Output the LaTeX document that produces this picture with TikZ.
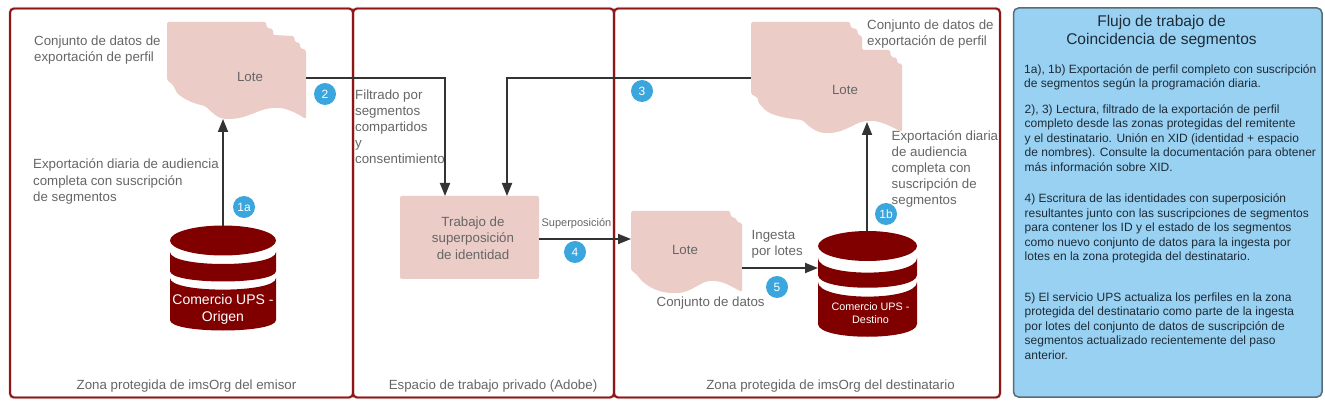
\documentclass[tikz,border=0pt]{standalone}
\usepackage{fontspec}
\setmainfont{Liberation Sans}
\usetikzlibrary{arrows.meta}
\definecolor{zoneRed}{HTML}{8E1616}
\definecolor{zoneHalo}{HTML}{E3C4C4}
\definecolor{pinkFill}{HTML}{ECCCC7}
\definecolor{dbRed}{HTML}{800000}
\definecolor{txtGray}{HTML}{666666}
\definecolor{lineDark}{HTML}{333333}
\definecolor{badgeBlue}{HTML}{3AA6DD}
\definecolor{panelBlue}{HTML}{99D1F3}
\definecolor{panelEdge}{HTML}{5A6B78}
\definecolor{panelText}{HTML}{1E2B36}
\tikzset{
  x=1pt,y=-1pt,
  zonebox/.style={draw=zoneRed,line width=1.9pt,rounded corners=4pt},
  zonehalo/.style={draw=zoneHalo,line width=3pt,rounded corners=4pt},
  docshape/.style={fill=pinkFill,draw=none},
  lbl/.style={text=txtGray,inner sep=0pt,align=left,anchor=west,font=\fontsize{13.3}{16}\selectfont},
  clbl/.style={text=txtGray,inner sep=0pt,align=center,font=\fontsize{13.3}{16.5}\selectfont},
  conn/.style={draw=lineDark,line width=1.8pt,-{Triangle[length=13pt,width=10pt]}},
  badge/.style={circle,fill=badgeBlue,text=white,minimum size=22pt,inner sep=0pt,font=\fontsize{12}{14}\selectfont},
  dbtxt/.style={text=white,inner sep=0pt,align=center},
  sidetxt/.style={text=panelText,inner sep=0pt,align=left,anchor=west,font=\fontsize{12}{14.45}\selectfont},
}
\begin{document}
\begin{tikzpicture}
\useasboundingbox (0,0) rectangle (1325,403);
\fill[white] (0,0) rectangle (1325,403);
% zones
\foreach \a/\b in {10/353,353/614,614/1000}{
  \draw[zonehalo] (\a,8.5) rectangle (\b,397.5);
}
\foreach \a/\b in {10/353,353/614,614/1000}{
  \draw[zonebox] (\a,8.5) rectangle (\b,397.5);
}
% blue panel
\draw[fill=panelBlue,draw=panelEdge,line width=1.5pt,rounded corners=5pt] (1013.5,8) rectangle (1322,397);
% doc A
\fill[docshape,rounded corners=1.5pt] (167,22) -- (266,22) -- (267,28) -- (273,29) -- (273,35) -- (294,36) -- (295,42) -- (300,43) -- (300,48) -- (306,50) -- (306,119)
  .. controls (296,113) and (286,107) .. (273,108) .. controls (258,109) and (248,119) .. (227,119)
  .. controls (218,119) and (212,112) .. (205,106) .. controls (196,104) and (186,101) .. (177,93) -- (173,85) -- (167,80) -- cycle;
% doc B
\fill[docshape,rounded corners=1.5pt] (751,22) -- (850,22) -- (851,28) -- (857,29) -- (858,35) -- (862,36) -- (862,50) -- (890,50) -- (891,57) -- (897,58) -- (897,63) -- (902,64) -- (902,132)
  .. controls (892,127) and (880,120) .. (867,121) .. controls (855,122) and (845,133) .. (827,133)
  .. controls (815,133) and (808,125) .. (802,120) .. controls (792,119) and (775,117) .. (765,110) -- (758,102) -- (758,98) -- (751,94) -- cycle;
% doc C
\fill[docshape,rounded corners=1.5pt] (631,211) -- (730,211) -- (731,217) -- (736,218) -- (737,222) -- (742,223) -- (742,292)
  .. controls (732,287) and (724,281) .. (712,281) .. controls (700,281) and (692,293) .. (675,293)
  .. controls (660,293) and (650,288) .. (642,281) -- (636,274) -- (631,270) -- cycle;
% db source
\fill[dbRed] (223,240.5) ellipse [x radius=53,y radius=15];
\fill[dbRed] (170,252) .. controls (170,268) and (276,268) .. (276,252) -- (276,271) .. controls (276,285) and (170,285) .. (170,271) -- cycle;
\fill[dbRed] (170,278) .. controls (170,293.5) and (276,293.5) .. (276,278) -- (276,320) .. controls (276,334) and (170,334) .. (170,320) -- cycle;
% db dest
\fill[dbRed] (867.5,246) ellipse [x radius=49.5,y radius=15];
\fill[dbRed] (818,258) .. controls (818,277.5) and (917,277.5) .. (917,258) -- (917,275) .. controls (917,292) and (818,292) .. (818,275) -- cycle;
\fill[dbRed] (818,282) .. controls (818,301.5) and (917,301.5) .. (917,282) -- (917,324) .. controls (917,341) and (818,341) .. (818,324) -- cycle;
% anchors of the shapes
\coordinate (srcTop) at (223,226);
\coordinate (dstTop) at (867,231);
\coordinate (dstLeft) at (818,268);
\coordinate (docAin) at (223,119);
\coordinate (docAout) at (306,78);
\coordinate (docBin) at (867,122);
\coordinate (docBout) at (751,78);
\coordinate (docCin) at (631,239);
\coordinate (docCout) at (742,268);
\node[fill=pinkFill,rounded corners=2pt,inner sep=0pt,minimum width=139pt,minimum height=83pt] (job) at (469.5,237.5) {};
\coordinate (jobInA) at (445,196);
\coordinate (jobInB) at (507,196);
\coordinate (jobOut) at (539,239);
% connectors
\draw[conn] (srcTop) -- (docAin);
\draw[conn] (docAout) -| (jobInA);
\draw[conn] (docBout) -| (jobInB);
\draw[conn] (jobOut) -- (docCin);
\draw[conn] (docCout) -- (dstLeft);
\draw[conn] (dstTop) -- (docBin);
% job text
\node[clbl] (jobtxt) at (473,238) {Trabajo de\\superposición\\de identidad};
% doc labels
\node[clbl] (loteA) at (250,77) {Lote};
\node[clbl] (loteB) at (845,90) {Lote};
\node[clbl] (loteC) at (685,250) {Lote};
% labels
\node[lbl] (l1) at (34,49.7) {Conjunto de datos de\\exportación de perfil};
\node[lbl,font=\fontsize{13.3}{16.5}\selectfont] (l2) at (33,181.7) {Exportación diaria de audiencia\\completa con suscripción\\de segmentos};
\node[lbl] (l3) at (355,126.7) {Filtrado por\\segmentos\\compartidos\\y\\consentimiento};
\node[lbl] (l4) at (867,33.7) {Conjunto de datos de\\exportación de perfil};
\node[lbl] (l5) at (891.5,168.7) {Exportación diaria\\de audiencia\\completa con\\suscripción de\\segmentos};
\node[lbl] (l6) at (751.5,244.7) {Ingesta\\por lotes};
\node[lbl] (l7) at (656.5,302.7) {Conjunto de datos};
\node[clbl,font=\fontsize{11}{13}\selectfont] (l8) at (576.5,223.5) {Superposición};
\node[clbl] (z1) at (186.5,386) {Zona protegida de imsOrg del emisor};
\node[clbl] (z2) at (493,386) {Espacio de trabajo privado (Adobe)};
\node[clbl] (z3) at (830.5,386) {Zona protegida de imsOrg del destinatario};
% db text
\node[dbtxt,font=\fontsize{14}{17}\selectfont] (srcname) at (223,309) {Comercio UPS -\\Origen};
\node[dbtxt,font=\fontsize{10.8}{13}\selectfont] (dstname) at (870.5,313.5) {Comercio UPS -\\Destino};
% badges
\node[badge] (b1a) at (244,207) {1a};
\node[badge] (b2) at (325,94) {2};
\node[badge] (b3) at (642,91) {3};
\node[badge] (b4) at (575,252) {4};
\node[badge] (b5) at (777,287) {5};
\node[badge] (b1b) at (886,214) {1b};
% side panel
\node[text=panelText,inner sep=0pt,align=center,font=\fontsize{15.5}{18}\selectfont] (title) at (1161.5,31.5) {Flujo de trabajo de\\Coincidencia de segmentos};
\node[sidetxt] (p1) at (1024,77.5) {1a), 1b) Exportación de perfil completo con suscripción\\de segmentos según la programación diaria.};
\node[sidetxt] (p2) at (1024.5,138) {2), 3) Lectura, filtrado de la exportación de perfil\\completo desde las zonas protegidas del remitente\\y el destinatario. Unión en XID (identidad + espacio\\de nombres). Consulte la documentación para obtener\\más información sobre XID.};
\node[sidetxt] (p3) at (1024.5,228.5) {4) Escritura de las identidades con superposición\\resultantes junto con las suscripciones de segmentos\\para contener los ID y el estado de los segmentos\\como nuevo conjunto de datos para la ingesta por\\lotes en la zona protegida del destinatario.};
\node[sidetxt] (p4) at (1024.5,326) {5) El servicio UPS actualiza los perfiles en la zona\\protegida del destinatario como parte de la ingesta\\por lotes del conjunto de datos de suscripción de\\segmentos actualizado recientemente del paso\\anterior.};
\end{tikzpicture}
\end{document}
